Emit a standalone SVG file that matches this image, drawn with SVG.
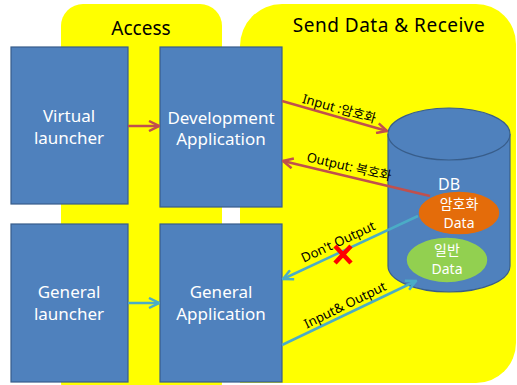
<svg xmlns="http://www.w3.org/2000/svg" width="517" height="385" viewBox="0 0 517 385">
<defs>
<style>
.panel{fill:#FFFF00}
.box{fill:#4F81BD;stroke:#385D8A;stroke-width:1.2}
.bt{font-family:"Noto Sans","Noto Sans CJK KR",sans-serif;font-size:17px;fill:#fff;text-anchor:middle}
.title{font-family:"Noto Sans","Noto Sans CJK KR",sans-serif;font-size:19px;fill:#000;text-anchor:middle}
.lbl{font-family:"Noto Sans","Noto Sans CJK KR",sans-serif;font-size:13px;fill:#000;text-anchor:middle}
.et{font-family:"Noto Sans","Noto Sans CJK KR",sans-serif;font-size:14px;fill:#fff;text-anchor:middle}
.red{stroke:#C0504D;stroke-width:2.5;fill:none}
.blue{stroke:#4BACC6;stroke-width:2.5;fill:none}
</style>
<marker id="ar" viewBox="0 0 10 10" refX="9" refY="5" markerWidth="5" markerHeight="5" orient="auto" markerUnits="strokeWidth">
<path d="M1,1 L9,5 L1,9" fill="none" stroke="#C0504D" stroke-width="2"/>
</marker>
<marker id="ab" viewBox="0 0 10 10" refX="9" refY="5" markerWidth="5" markerHeight="5" orient="auto" markerUnits="strokeWidth">
<path d="M1,1 L9,5 L1,9" fill="none" stroke="#4BACC6" stroke-width="2"/>
</marker>
</defs>
<rect width="517" height="385" fill="#fff"/>
<g id="panel-access">
<rect class="panel" x="61" y="4" width="161" height="400" rx="22"/>
<text class="title" x="141" y="35">Access</text>
</g>
<g id="panel-send">
<path class="panel" d="M282,4 H476 A40,40 0 0 1 516,44 V343 A40,40 0 0 1 476,383 H240 V46 A42,42 0 0 1 282,4 Z"/>
<text class="title" x="389" y="32" font-size="20" letter-spacing="0.5">Send Data &amp; Receive</text>
</g>
<g id="virtual-launcher">
<rect class="box" x="11" y="47" width="117" height="157"/>
<text class="bt" x="69" y="122">Virtual</text>
<text class="bt" x="69" y="144">launcher</text>
</g>
<g id="development-application">
<rect class="box" x="160" y="47" width="122" height="160"/>
<text class="bt" x="221" y="124">Development</text>
<text class="bt" x="221" y="145">Application</text>
</g>
<g id="general-launcher">
<rect class="box" x="11" y="224" width="117" height="158"/>
<text class="bt" x="69" y="298">General</text>
<text class="bt" x="69" y="320">launcher</text>
</g>
<g id="general-application">
<rect class="box" x="160" y="224" width="122" height="158"/>
<text class="bt" x="221" y="298">General</text>
<text class="bt" x="221" y="320">Application</text>
</g>
<g id="db">
<path class="box" d="M388,134 V266 A61,26 0 0 0 510,266 V134"/>
<ellipse class="box" cx="449" cy="134" rx="61" ry="26"/>
<text x="449" y="190" font-family="Noto Sans,sans-serif" font-size="16" fill="#fff" text-anchor="middle">DB</text>
</g>
<g id="encrypted-data">
<ellipse cx="459" cy="213" rx="41" ry="22" fill="#E46C0A" stroke="#4F81BD" stroke-width="1.5"/>
<text class="et" x="459" y="209">암호화</text>
<text class="et" x="459" y="228">Data</text>
</g>
<g id="general-data">
<ellipse cx="447" cy="260" rx="41" ry="23" fill="#92D050" stroke="#4F81BD" stroke-width="1.5"/>
<text class="et" x="447" y="255">일반</text>
<text class="et" x="447" y="274">Data</text>
</g>
<g id="connectors">
<line class="red" x1="128" y1="126" x2="159" y2="126" marker-end="url(#ar)"/>
<line class="red" x1="282" y1="101" x2="387" y2="131" marker-end="url(#ar)"/>
<line class="red" x1="430" y1="196" x2="283" y2="161" marker-end="url(#ar)"/>
<line class="blue" x1="128" y1="303" x2="159" y2="303" marker-end="url(#ab)"/>
<line class="blue" x1="418" y1="216" x2="283" y2="279" marker-end="url(#ab)"/>
<line class="blue" x1="282" y1="345" x2="416" y2="281" marker-end="url(#ab)"/>
<text class="lbl" transform="translate(338,113) rotate(15.8)">Input :암호화</text>
<text class="lbl" transform="translate(348,171) rotate(13)">Output: 복호화</text>
<text class="lbl" transform="translate(340,246) rotate(-25)">Don't Output</text>
<text class="lbl" transform="translate(347,309) rotate(-26)">Input&amp; Output</text>
<path d="M335,246 L351,263 M351,246 L335,263" stroke="#FF0000" stroke-width="4.5" fill="none"/>
</g>
</svg>
